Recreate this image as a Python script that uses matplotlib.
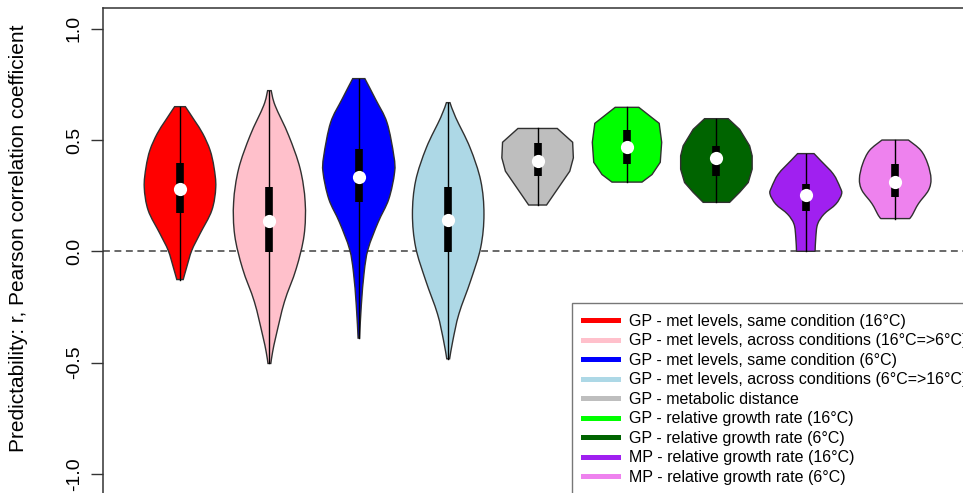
import numpy as np
import matplotlib
matplotlib.use('Agg')
import matplotlib.pyplot as plt
from matplotlib.lines import Line2D
from matplotlib.path import Path
from matplotlib.patches import PathPatch

plt.rcParams['font.family'] = ['Liberation Sans', 'DejaVu Sans']

# group labels and fill colours (one violin each)
labels = ['GP - met levels, same condition (16°C)',
          'GP - met levels, across conditions (16°C=>6°C)',
          'GP - met levels, same condition (6°C)',
          'GP - met levels, across conditions (6°C=>16°C)',
          'GP - metabolic distance',
          'GP - relative growth rate (16°C)',
          'GP - relative growth rate (6°C)',
          'MP - relative growth rate (16°C)',
          'MP - relative growth rate (6°C)']
colors = ['#FF0000', '#FFC0CB', '#0000FF', '#ADD8E6', '#BEBEBE',
          '#00FF00', '#006400', '#A020F0', '#EE82EE']

# summary stats per group: median and quartiles
medians = [0.282, 0.134, 0.332, 0.141, 0.408, 0.468, 0.420, 0.251, 0.311]
q1 = [0.170, -0.005, 0.220, -0.005, 0.339, 0.393, 0.338, 0.183, 0.243]
q3 = [0.398, 0.288, 0.459, 0.290, 0.486, 0.543, 0.475, 0.302, 0.393]

# density outline per group: r values (top to bottom) and relative half width
prof_r = [
    [0.650, 0.587, 0.528, 0.455, 0.378, 0.288, 0.184, 0.079, 0.004, -0.070, -0.127],
    [0.722, 0.655, 0.520, 0.371, 0.221, 0.072, -0.078, -0.227, -0.377, -0.452, -0.504],
    [0.776, 0.683, 0.578, 0.429, 0.354, 0.235, 0.130, 0.010, -0.094, -0.244, -0.390],
    [0.668, 0.601, 0.466, 0.317, 0.167, 0.018, -0.131, -0.281, -0.401, -0.483],
    [0.552, 0.490, 0.420, 0.360, 0.208],
    [0.647, 0.575, 0.490, 0.400, 0.345, 0.311],
    [0.596, 0.548, 0.474, 0.429, 0.369, 0.309, 0.265, 0.220],
    [0.439, 0.407, 0.347, 0.287, 0.257, 0.212, 0.167, 0.122, 0.063, 0.000],
    [0.500, 0.453, 0.393, 0.326, 0.274, 0.214, 0.161, 0.147],
]
prof_w = [
    [0.15, 0.41, 0.64, 0.84, 0.95, 1.00, 0.89, 0.56, 0.33, 0.19, 0.09],
    [0.05, 0.16, 0.54, 0.86, 1.00, 0.97, 0.75, 0.42, 0.19, 0.09, 0.04],
    [0.17, 0.47, 0.79, 0.98, 1.00, 0.84, 0.54, 0.26, 0.15, 0.07, 0.02],
    [0.05, 0.21, 0.61, 0.91, 1.00, 0.91, 0.63, 0.30, 0.13, 0.04],
    [0.55, 0.98, 1.00, 0.90, 0.25],
    [0.33, 0.90, 0.97, 0.93, 0.70, 0.42],
    [0.33, 0.65, 0.93, 1.00, 1.00, 0.89, 0.65, 0.37],
    [0.23, 0.42, 0.77, 0.96, 1.00, 0.84, 0.51, 0.33, 0.28, 0.26],
    [0.37, 0.72, 0.91, 1.00, 0.93, 0.65, 0.47, 0.40],
]
# the small-sample outlines are drawn with straight segments
smooth = [True, True, True, True, False, False, False, True, True]

yticks = [-1.0, -0.5, 0.0, 0.5, 1.0]


def side_path(pts, curved):
    """vertices/codes continuing a path through pts (first point already set)"""
    verts, codes = [], []
    n = len(pts)
    for k in range(n - 1):
        if not curved:
            verts.append(pts[k + 1])
            codes.append(Path.LINETO)
            continue
        p0 = pts[k - 1] if k > 0 else pts[k]
        p1, p2 = pts[k], pts[k + 1]
        p3 = pts[k + 2] if k + 2 < n else pts[k + 1]
        c1 = p1 + (p2 - p0) / 6.0
        c2 = p2 - (p3 - p1) / 6.0
        verts += [c1, c2, p2]
        codes += [Path.CURVE4] * 3
    return verts, codes


def violin(ax, x, r, w, color, curved):
    right = np.column_stack([x + w, r])
    left = np.column_stack([x - w, r])[::-1]
    verts, codes = [right[0]], [Path.MOVETO]
    v, c = side_path(right, curved)
    verts += v
    codes += c
    verts.append(left[0])
    codes.append(Path.LINETO)
    v, c = side_path(left, curved)
    verts += v
    codes += c
    verts.append(right[0])
    codes.append(Path.CLOSEPOLY)
    patch = PathPatch(Path(np.array(verts), codes), facecolor=color,
                      edgecolor='#303030', linewidth=1.0, zorder=2)
    ax.add_patch(patch)


W, H = 963, 493
fig = plt.figure(figsize=(W / 100, H / 100), dpi=100)
# axes box runs off the right and bottom edges
ax = fig.add_axes([103 / W, -1.3 / H, 865 / W, 486 / H])

wex = 0.4
for i in range(len(labels)):
    x = i + 1
    r = np.array(prof_r[i])
    w = np.array(prof_w[i]) * wex
    violin(ax, x, r, w, colors[i], smooth[i])
    ax.plot([x, x], [r.min(), r.max()], color='black', lw=1.0, zorder=3)
    ax.plot([x, x], [q1[i], q3[i]], color='black', lw=5.5,
            solid_capstyle='butt', zorder=4)
    ax.plot(x, medians[i], 'o', color='white', markersize=9.5,
            markeredgewidth=0, zorder=5)

ax.axhline(0, color='#404040', lw=1.1, ls=(0, (4.5, 3)), zorder=1)

ax.set_xlim(1 - 77 / 89.4, 1 + 788 / 89.4)
ax.set_ylim(-1.092, 1.092)
ax.set_xticks([])
ax.set_yticks(yticks)
ax.set_yticklabels(['%.1f' % v for v in yticks], rotation=90, va='center',
                   fontsize=14)
ax.tick_params(axis='y', length=8.5, width=1.0, color='#333333', pad=6)
for s in ['left', 'top', 'right', 'bottom']:
    ax.spines[s].set_color('#333333')
    ax.spines[s].set_linewidth(1.1)

fig.text(19 / W, 1 - 238 / H, 'Predictability: r, Pearson correlation coefficient',
         rotation=90, ha='center', va='center', fontsize=15)

handles = [Line2D([], [], color=c, lw=3.6) for c in colors]
leg = ax.legend(handles, labels, loc='upper left',
                bbox_to_anchor=(571.7 / W, 1 - 302.7 / H),
                bbox_transform=fig.transFigure, fontsize=11.5,
                frameon=True, fancybox=False, borderaxespad=0,
                borderpad=0.7, handlelength=2.2, handletextpad=0.7,
                labelspacing=0.28)
leg.get_frame().set_edgecolor('#555555')
leg.get_frame().set_linewidth(1.0)

fig.savefig('out.png', dpi=100)
